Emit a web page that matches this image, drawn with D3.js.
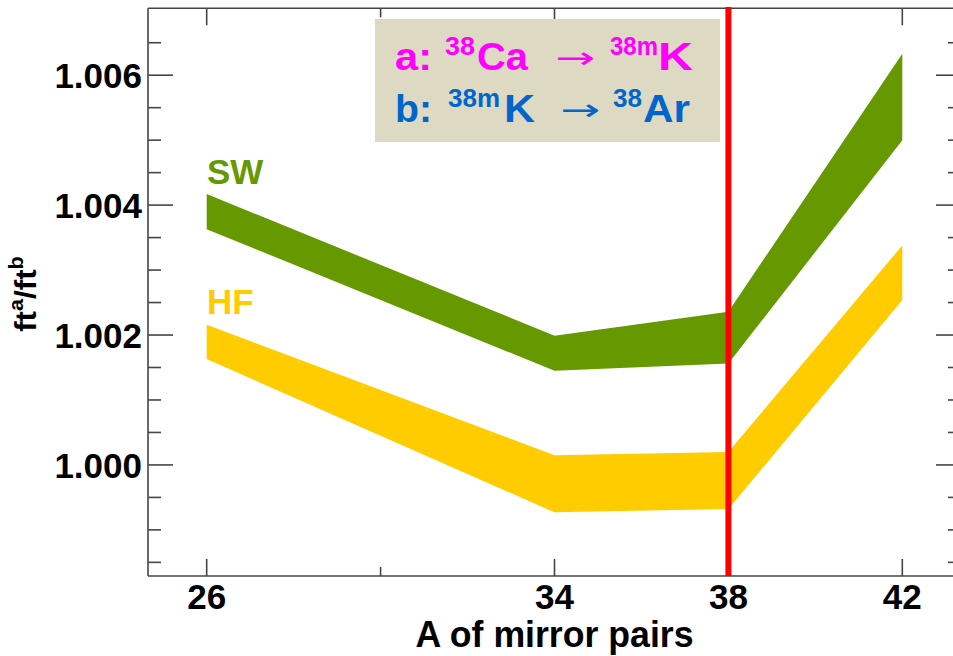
<!DOCTYPE html>
<html><head><meta charset="utf-8">
<script src="https://cdn.jsdelivr.net/npm/d3@7"></script>
<style>
html,body{margin:0;padding:0;background:#fff;}
svg{display:block;font-family:"Liberation Sans",Arial,sans-serif;}
</style></head>
<body>
<svg id="chart" width="953" height="656"></svg>
<script>
// ---- data ----
const massNumbers = [26, 34, 38, 42];
const swUpper = [1.00417, 1.00199, 1.00236, 1.00633];
const swLower = [1.00363, 1.00145, 1.00156, 1.00500];
const hfUpper = [1.00216, 1.00015, 1.00020, 1.00338];
const hfLower = [1.00163, 0.99927, 0.99932, 1.00254];
const xMajorTicks = [26, 34, 38, 42];
const xMinorTicks = [30];
const yMajorTicks = [1.000, 1.002, 1.004, 1.006];
const yMinorTicks = [0.9985, 0.999, 0.9995, 1.0005, 1.001, 1.0015, 1.0025, 1.003, 1.0035, 1.0045, 1.005, 1.0055, 1.0065];
const markerA = 38;

const svg = d3.select("#chart");
const L = 148, R = 961, T = 8.3, B = 576;
const x = d3.scaleLinear().domain([24.65, 43.35]).range([L, R]);
const y = d3.scaleLinear().domain([0.99829, 1.00703]).range([B, T]);

svg.append("rect").attr("width", 953).attr("height", 656).attr("fill", "#fff");

// bands
function band(upper, lower, color) {
  const d = massNumbers.map((a, i) => ({a, hi: upper[i], lo: lower[i]}));
  svg.append("path").datum(d)
    .attr("d", d3.area().x(p => x(p.a)).y0(p => y(p.lo)).y1(p => y(p.hi)))
    .attr("fill", color);
}
band(swUpper, swLower, "#669900");
band(hfUpper, hfLower, "#ffcc00");

// frame & ticks
const axisColor = "#454545";
const frame = svg.append("g").attr("stroke", axisColor).attr("stroke-width", 1.6).attr("fill", "none");
frame.append("line").attr("x1", L).attr("x2", R).attr("y1", T).attr("y2", T);
frame.append("line").attr("x1", L).attr("x2", R).attr("y1", B).attr("y2", B);
frame.append("line").attr("x1", L).attr("x2", L).attr("y1", T).attr("y2", B);
frame.append("line").attr("x1", R).attr("x2", R).attr("y1", T).attr("y2", B);

const ticks = svg.append("g").attr("stroke", axisColor).attr("stroke-width", 1.6);
xMajorTicks.forEach(v => {
  ticks.append("line").attr("x1", x(v)).attr("x2", x(v)).attr("y1", B).attr("y2", B - 17);
  ticks.append("line").attr("x1", x(v)).attr("x2", x(v)).attr("y1", T).attr("y2", T + 17);
});
xMinorTicks.forEach(v => {
  ticks.append("line").attr("x1", x(v)).attr("x2", x(v)).attr("y1", B).attr("y2", B - 9);
  ticks.append("line").attr("x1", x(v)).attr("x2", x(v)).attr("y1", T).attr("y2", T + 9);
});
yMajorTicks.forEach(v => {
  ticks.append("line").attr("x1", L).attr("x2", L + 25).attr("y1", y(v)).attr("y2", y(v));
  ticks.append("line").attr("x1", R).attr("x2", R - 25).attr("y1", y(v)).attr("y2", y(v));
});
yMinorTicks.forEach(v => {
  ticks.append("line").attr("x1", L).attr("x2", L + 13).attr("y1", y(v)).attr("y2", y(v));
  ticks.append("line").attr("x1", R).attr("x2", R - 13).attr("y1", y(v)).attr("y2", y(v));
});

// tick labels
svg.append("g").selectAll("text").data(yMajorTicks).join("text")
  .attr("x", L - 6).attr("y", d => y(d)).attr("dy", "0.36em")
  .attr("text-anchor", "end").attr("font-size", 35).attr("font-weight", "bold").attr("fill", "#000")
  .text(d => d3.format(".3f")(d));
svg.append("g").selectAll("text").data(xMajorTicks).join("text")
  .attr("x", d => x(d)).attr("y", 609)
  .attr("text-anchor", "middle").attr("font-size", 35).attr("font-weight", "bold").attr("fill", "#000")
  .text(d => d);

// axis titles
svg.append("text").attr("x", (L + R) / 2).attr("y", 647)
  .attr("text-anchor", "middle").attr("font-size", 37).attr("font-weight", "bold")
  .attr("textLength", 278).attr("lengthAdjust", "spacingAndGlyphs")
  .text("A of mirror pairs");

const yt = svg.append("g").attr("transform", "translate(36,294) rotate(-90) scale(1.08,1)")
  .append("text").attr("text-anchor", "middle").attr("font-size", 29).attr("font-weight", "bold");
yt.append("tspan").text("ft");
yt.append("tspan").attr("font-size", 20).attr("dy", -13).text("a");
yt.append("tspan").attr("dy", 13).text("/ft");
yt.append("tspan").attr("font-size", 20).attr("dy", -13).text("b");

// band labels
svg.append("text").attr("x", 207).attr("y", 183.5).attr("font-size", 35).attr("font-weight", "bold")
  .attr("fill", "#669900").text("SW");
svg.append("text").attr("x", 207).attr("y", 313.5).attr("font-size", 35).attr("font-weight", "bold")
  .attr("fill", "#ffcc00").text("HF");

// red marker line
svg.append("line").attr("x1", x(markerA)).attr("x2", x(markerA)).attr("y1", 7).attr("y2", B)
  .attr("stroke", "#ff0000").attr("stroke-width", 6);

// legend box
svg.append("rect").attr("x", 375).attr("y", 19).attr("width", 345).attr("height", 123).attr("fill", "#ddd9c3");
function piece(txt, px, py, size, len, color, font, weight) {
  svg.append("text").attr("x", px).attr("y", py).attr("font-size", size)
    .attr("font-weight", weight || "bold").attr("fill", color)
    .attr("font-family", font || null)
    .attr("textLength", len).attr("lengthAdjust", "spacingAndGlyphs").text(txt);
}
const magenta = "#ff00ff", blue = "#0066cc";
piece("a:", 395, 70, 38, 37, magenta);
piece("38", 445, 55, 25, 30, magenta);
piece("Ca", 477, 70, 38, 51, magenta);
piece("\u2192", 555, 68, 30, 40, magenta, "DejaVu Sans", "normal");
piece("38m", 610, 55, 25, 48, magenta);
piece("K", 658, 70, 38, 35, magenta);
piece("b:", 395, 121.5, 38, 37, blue);
piece("38m", 448, 106.5, 25, 52, blue);
piece("K", 504, 121.5, 38, 31, blue);
piece("\u2192", 560, 119.5, 30, 40, blue, "DejaVu Sans", "normal");
piece("38", 613, 106.5, 25, 29, blue);
piece("Ar", 643, 121.5, 38, 47, blue);
</script>
</body></html>
